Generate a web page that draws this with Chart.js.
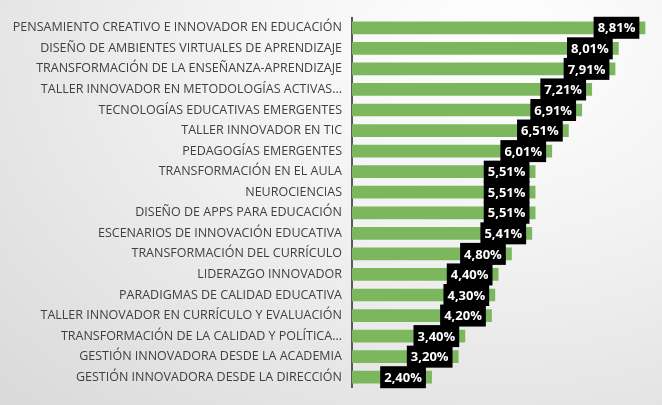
<!DOCTYPE html>
<html><head><meta charset="utf-8">
<script src="https://cdn.jsdelivr.net/npm/chart.js@4"></script>
<style>
html,body{margin:0;padding:0;}
body{width:662px;height:405px;background:radial-gradient(ellipse at 75% 10%, #ffffff 0%, #f2f2f2 40%, #d9d9d9 100%);}
#wrap{width:662px;height:405px;position:relative;}
</style></head><body>
<div id="wrap"><canvas id="c"></canvas></div>
<script>
'use strict';
const categories = [
  'PENSAMIENTO CREATIVO E INNOVADOR EN EDUCACIÓN',
  'DISEÑO DE AMBIENTES VIRTUALES DE APRENDIZAJE',
  'TRANSFORMACIÓN DE LA ENSEÑANZA-APRENDIZAJE',
  'TALLER INNOVADOR EN METODOLOGÍAS ACTIVAS...',
  'TECNOLOGÍAS EDUCATIVAS EMERGENTES',
  'TALLER INNOVADOR EN TIC',
  'PEDAGOGÍAS EMERGENTES',
  'TRANSFORMACIÓN EN EL AULA',
  'NEUROCIENCIAS',
  'DISEÑO DE APPS PARA EDUCACIÓN',
  'ESCENARIOS DE INNOVACIÓN EDUCATIVA',
  'TRANSFORMACIÓN DEL CURRÍCULO',
  'LIDERAZGO INNOVADOR',
  'PARADIGMAS DE CALIDAD EDUCATIVA',
  'TALLER INNOVADOR EN CURRÍCULO Y EVALUACIÓN',
  'TRANSFORMACIÓN DE LA CALIDAD Y POLÍTICA...',
  'GESTIÓN INNOVADORA DESDE LA ACADEMIA',
  'GESTIÓN INNOVADORA DESDE LA DIRECCIÓN'
];
const values = [8.81, 8.01, 7.91, 7.21, 6.91, 6.51, 6.01, 5.51, 5.51, 5.51, 5.41, 4.80, 4.40, 4.30, 4.20, 3.40, 3.20, 2.40];

const fmt = v => v.toFixed(2).replace('.', ',') + '%';

// etiquetas negras dentro del extremo de cada barra
const boxLabels = {
  id: 'boxLabels',
  afterDatasetsDraw(chart) {
    const ctx = chart.ctx;
    const meta = chart.getDatasetMeta(0);
    ctx.save();
    ctx.font = 'bold 13px "Open Sans", Calibri, sans-serif';
    ctx.textBaseline = 'middle';
    meta.data.forEach((bar, i) => {
      const txt = fmt(values[i]);
      const w = ctx.measureText(txt).width + 8;
      const h = 22;
      const right = bar.x - 6;
      ctx.fillStyle = '#000';
      ctx.fillRect(right - w, bar.y - h / 2, w, h);
      ctx.fillStyle = '#fff';
      ctx.textAlign = 'center';
      ctx.fillText(txt, right - w / 2, bar.y + 1);
    });
    ctx.restore();
  }
};

new Chart(document.getElementById('c'), {
  type: 'bar',
  data: {
    labels: categories,
    datasets: [{
      data: values,
      backgroundColor: '#7cb75e',
      barPercentage: 0.62,
      categoryPercentage: 1
    }]
  },
  options: {
    indexAxis: 'y',
    responsive: true,
    maintainAspectRatio: false,
    animation: false,
    layout: { padding: { top: -8, bottom: 0, right: 7 } },
    plugins: { legend: { display: false }, tooltip: { enabled: false } },
    scales: {
      x: { display: false, min: 0, max: 9.1 },
      y: {
        grid: { display: false, drawTicks: false },
        border: { color: '#595959', width: 2 },
        ticks: { color: '#404040', padding: 10, font: { size: 12.5, family: '"Open Sans", Calibri, sans-serif' } },
        afterFit(s) { s.width = 352; }
      }
    }
  },
  plugins: [boxLabels]
});
</script>
</body></html>
